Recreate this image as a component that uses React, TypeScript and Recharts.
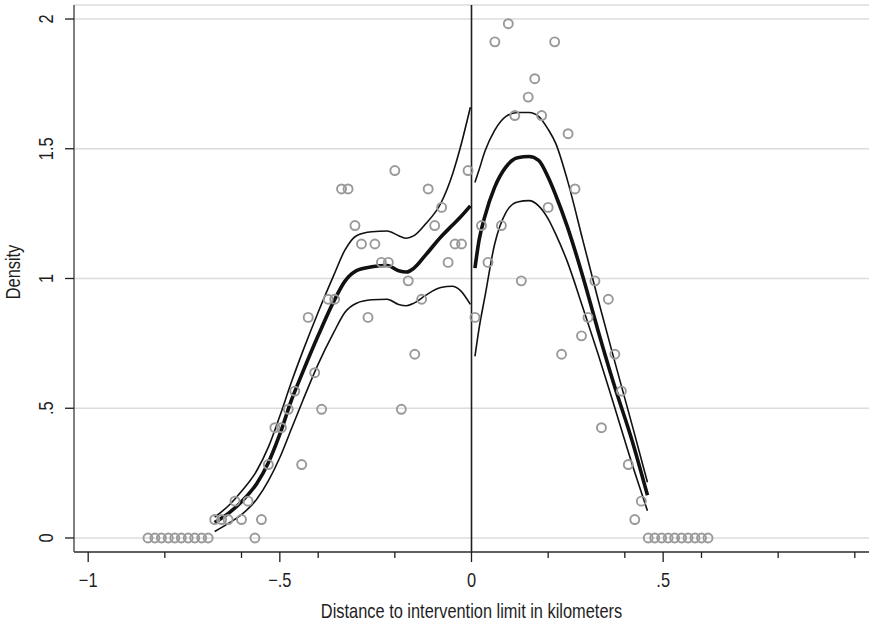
import { ComposedChart, Line, Scatter, XAxis, YAxis, CartesianGrid, ReferenceLine, Label } from 'recharts'

// binned densities (circles)
const leftBinX = [
  -0.844, -0.826, -0.809, -0.791, -0.774, -0.757, -0.739, -0.722, -0.704, -0.687,
  -0.670, -0.652, -0.635, -0.617, -0.600, -0.583, -0.565, -0.548, -0.530, -0.513,
  -0.496, -0.478, -0.461, -0.443, -0.426, -0.409, -0.391, -0.374, -0.357, -0.339,
  -0.322, -0.304, -0.287, -0.270, -0.252, -0.235, -0.217, -0.200, -0.183, -0.165,
  -0.148, -0.130, -0.113, -0.096, -0.078, -0.061, -0.043, -0.026, -0.009,
]
const leftDensity = [
  0, 0, 0, 0, 0, 0, 0, 0, 0, 0,
  0.071, 0.071, 0.071, 0.142, 0.071, 0.142, 0, 0.071, 0.283, 0.425,
  0.425, 0.496, 0.566, 0.283, 0.850, 0.637, 0.496, 0.920, 0.920, 1.345,
  1.345, 1.204, 1.133, 0.850, 1.133, 1.062, 1.062, 1.416, 0.496, 0.991,
  0.708, 0.920, 1.345, 1.204, 1.274, 1.062, 1.133, 1.133, 1.416,
]
const rightBinX = [
  0.009, 0.026, 0.043, 0.061, 0.078, 0.096, 0.113, 0.130, 0.148, 0.165,
  0.183, 0.200, 0.217, 0.235, 0.252, 0.270, 0.287, 0.304, 0.322, 0.339,
  0.357, 0.374, 0.391, 0.409, 0.426, 0.443, 0.461, 0.478, 0.496, 0.513,
  0.530, 0.548, 0.565, 0.583, 0.600, 0.617,
]
const rightDensity = [
  0.850, 1.204, 1.062, 1.912, 1.204, 1.982, 1.628, 0.991, 1.699, 1.770,
  1.628, 1.274, 1.912, 0.708, 1.558, 1.345, 0.779, 0.850, 0.991, 0.425,
  0.920, 0.708, 0.566, 0.283, 0.071, 0.142, 0, 0, 0, 0,
  0, 0, 0, 0, 0, 0,
]

// local linear fit with confidence band, left of cutoff
const leftFitX = [-0.67, -0.63, -0.60, -0.56, -0.53, -0.50, -0.47, -0.44, -0.40, -0.36, -0.33, -0.30, -0.26, -0.22, -0.19, -0.17, -0.15, -0.12, -0.08, -0.05, -0.03, -0.003]
const leftFit = [0.06, 0.10, 0.14, 0.21, 0.29, 0.40, 0.53, 0.64, 0.78, 0.91, 0.99, 1.03, 1.045, 1.05, 1.03, 1.025, 1.04, 1.09, 1.16, 1.205, 1.235, 1.28]
const leftUpper = [0.08, 0.13, 0.18, 0.26, 0.35, 0.47, 0.60, 0.72, 0.87, 1.01, 1.11, 1.165, 1.18, 1.183, 1.165, 1.155, 1.165, 1.21, 1.29, 1.40, 1.50, 1.66]
const leftLower = [0.025, 0.06, 0.09, 0.15, 0.22, 0.31, 0.42, 0.53, 0.67, 0.79, 0.87, 0.905, 0.918, 0.92, 0.90, 0.895, 0.905, 0.935, 0.965, 0.97, 0.955, 0.90]

// right of cutoff
const rightFitX = [0.009, 0.02, 0.035, 0.06, 0.09, 0.12, 0.15, 0.175, 0.20, 0.22, 0.25, 0.29, 0.33, 0.37, 0.42, 0.459]
const rightFit = [1.04, 1.15, 1.24, 1.35, 1.43, 1.465, 1.47, 1.455, 1.39, 1.32, 1.20, 1.01, 0.80, 0.60, 0.37, 0.165]
const rightUpper = [1.37, 1.42, 1.49, 1.57, 1.625, 1.64, 1.64, 1.625, 1.575, 1.52, 1.38, 1.15, 0.92, 0.70, 0.43, 0.215]
const rightLower = [0.70, 0.81, 0.93, 1.13, 1.255, 1.295, 1.30, 1.28, 1.23, 1.17, 1.065, 0.89, 0.71, 0.52, 0.28, 0.105]

const xMajorTicks = [-1, -0.5, 0, 0.5]
const xMajorLabels = ['\u22121', '\u2212.5', '0', '.5']
const xMinorTicks = [-0.8, -0.6, -0.4, -0.2, 0.2, 0.4, 0.6, 0.8, 1]
const yTicks = [0, 0.5, 1, 1.5, 2]
const yTickLabels = ['0', '.5', '1', '1.5', '2']

const FONT = "'Liberation Sans Narrow', 'Liberation Sans', Arial, sans-serif"
const INK = '#1e1e1e'

const zip = (xs: number[], ys: number[]) => xs.map((x, i) => ({ x, y: ys[i] }))

const points = [...zip(leftBinX, leftDensity), ...zip(rightBinX, rightDensity)]
const allXTicks = [...xMajorTicks, ...xMinorTicks].sort((a, b) => a - b)

// squeeze text horizontally to mimic a condensed face
function Narrow({ x, y, children, rotate = false, anchor = 'middle' }: any) {
  const t = rotate
    ? `translate(${x} ${y}) rotate(-90) scale(0.82 1)`
    : `translate(${x} ${y}) scale(0.82 1)`
  return (
    <text transform={t} x={0} y={0} textAnchor={anchor} fontSize={20} fill={INK} fontFamily={FONT}>
      {children}
    </text>
  )
}

function XTick(props: any) {
  const { x, y, payload } = props
  const idx = xMajorTicks.indexOf(payload.value)
  const major = idx >= 0
  return (
    <g>
      <line x1={x} x2={x} y1={y} y2={y + (major ? 10 : 6)} stroke={INK} strokeWidth={1.3} />
      {major && <Narrow x={x} y={y + 35}>{xMajorLabels[idx]}</Narrow>}
    </g>
  )
}

function YTick(props: any) {
  const { x, y, payload } = props
  const idx = yTicks.indexOf(payload.value)
  return (
    <g>
      <line x1={x - 9} x2={x} y1={y} y2={y} stroke={INK} strokeWidth={1.3} />
      <Narrow x={x - 21} y={y} rotate>{yTickLabels[idx]}</Narrow>
    </g>
  )
}

function Circle(props: any) {
  return <circle cx={props.cx} cy={props.cy} r={4.5} fill="none" stroke="#999" strokeWidth={1.9} />
}

export default function App() {
  return (
    <div style={{ position: 'absolute', left: 0, top: 0, background: '#fff' }}>
      <ComposedChart width={869} height={626} margin={{ top: 5, right: 0, bottom: 0, left: 0 }}>
        <CartesianGrid vertical={false} stroke="#dcdcdc" strokeWidth={1.3} />
        <XAxis
          type="number"
          dataKey="x"
          domain={[-1.037, 1.037]}
          allowDataOverflow
          ticks={allXTicks}
          interval={0}
          height={74}
          tickSize={0}
          tickMargin={0}
          tickLine={false}
          axisLine={{ stroke: '#333', strokeWidth: 1.5 }}
          tick={<XTick />}
        >
          <Label content={() => <Narrow x={471.5} y={618}>Distance to intervention limit in kilometers</Narrow>} />
        </XAxis>
        <YAxis
          type="number"
          dataKey="y"
          domain={[-0.054, 2.054]}
          allowDataOverflow
          ticks={yTicks}
          interval={0}
          width={74}
          tickSize={0}
          tickMargin={0}
          tickLine={false}
          axisLine={{ stroke: '#555', strokeWidth: 1.5 }}
          tick={<YTick />}
        >
          <Label content={() => <Narrow x={20} y={272} rotate>Density</Narrow>} />
        </YAxis>
        <ReferenceLine x={0} stroke={INK} strokeWidth={1.6} />
        <Scatter data={points} dataKey="y" shape={<Circle />} isAnimationActive={false} />
        <Line data={zip(leftFitX, leftUpper)} dataKey="y" type="monotone" stroke="#111" strokeWidth={1.6} dot={false} isAnimationActive={false} />
        <Line data={zip(leftFitX, leftLower)} dataKey="y" type="monotone" stroke="#111" strokeWidth={1.6} dot={false} isAnimationActive={false} />
        <Line data={zip(leftFitX, leftFit)} dataKey="y" type="monotone" stroke="#111" strokeWidth={3.6} dot={false} isAnimationActive={false} />
        <Line data={zip(rightFitX, rightUpper)} dataKey="y" type="monotone" stroke="#111" strokeWidth={1.6} dot={false} isAnimationActive={false} />
        <Line data={zip(rightFitX, rightLower)} dataKey="y" type="monotone" stroke="#111" strokeWidth={1.6} dot={false} isAnimationActive={false} />
        <Line data={zip(rightFitX, rightFit)} dataKey="y" type="monotone" stroke="#111" strokeWidth={3.6} dot={false} isAnimationActive={false} />
      </ComposedChart>
    </div>
  )
}
